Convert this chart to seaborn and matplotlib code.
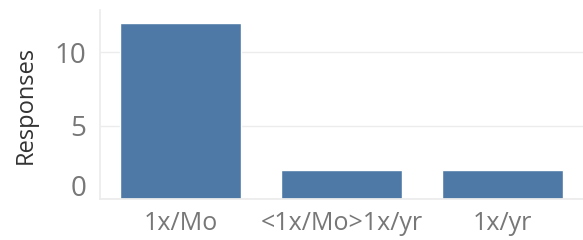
import matplotlib
matplotlib.use("Agg")
import matplotlib.pyplot as plt
import seaborn as sns
import pandas as pd
import matplotlib.transforms as mtransforms

categories = ["1x/Mo", "<1x/Mo>1x/yr", "1x/yr"]
responses = [12, 2, 2]
yticks = [0, 5, 10]

sns.set_theme(style="white")
plt.rcParams['font.family'] = ['Open Sans', 'DejaVu Sans']

df = pd.DataFrame({"cat": categories, "val": responses})

fig = plt.figure(figsize=(5.83, 2.40), dpi=100)
ax = fig.add_axes([100/583, 1-199/240, 1-100/583, 189/240])

sns.barplot(data=df, x="cat", y="val", color="#4e79a7", width=0.75,
            saturation=1, ax=ax, order=categories)

grid_c = "#ececec"
ax.set_ylim(0, 12.86)
ax.set_xlim(-0.5, 2.5)
ax.set_yticks(yticks)
ax.set_yticklabels([str(t) for t in yticks])
ax.yaxis.grid(True, color=grid_c, linewidth=1)
ax.set_axisbelow(True)
for s in ["top", "right"]:
    ax.spines[s].set_visible(False)
ax.spines["left"].set_color(grid_c)
ax.spines["bottom"].set_color(grid_c)
ax.spines["left"].set_bounds(0, 12.86)

ax.tick_params(axis="y", length=8, color=grid_c, labelsize=20, labelcolor="#777777", pad=2)
ax.tick_params(axis="x", length=0, labelsize=18, labelcolor="#777777", pad=9)
ax.set_xticks([-0.5, 0.5, 1.5], minor=True)
ax.tick_params(axis="x", which="minor", length=8, color=grid_c)

# bottom tick label raised to stay inside the pane
lbl0 = ax.get_yticklabels()[0]
lbl0.set_transform(lbl0.get_transform() + mtransforms.Affine2D().translate(0, 14))

ax.set_xlabel("")
ax.set_ylabel("Responses", fontsize=17, color="#333333", labelpad=12)

fig.savefig("out.png", dpi=100)
